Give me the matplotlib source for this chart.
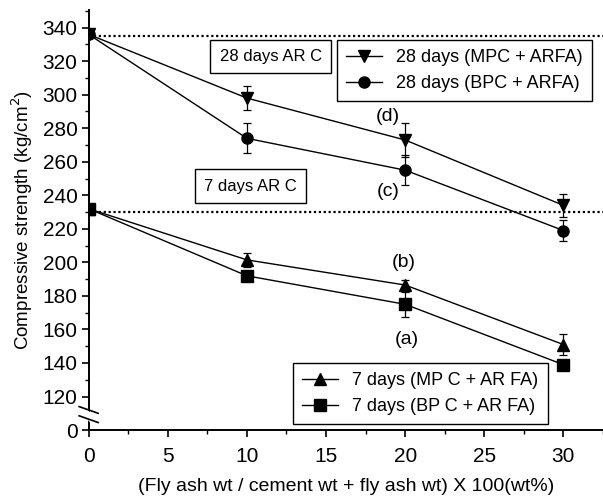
import matplotlib.pyplot as plt
import numpy as np
from matplotlib.lines import Line2D
from matplotlib.ticker import MultipleLocator

plt.rcParams['font.family'] = ['Liberation Sans', 'DejaVu Sans']

# Data -------------------------------------------------------------
fly_ash = [0, 10, 20, 30]
mpc_28 = [336, 298, 273, 234]
mpc_28_err = [0, 7, 10, 7]
bpc_28 = [336, 274, 255, 219]
bpc_28_err = [0, 9, 9, 6]
mpc_7 = [232, 201.5, 186.5, 151]
mpc_7_err = [0, 4, 3, 6]
bpc_7 = [232, 192, 175, 139]
bpc_7_err = [0, 3, 7.5, 3]
ref_28 = 335     # 28 days AR C
ref_7 = 230      # 7 days AR C
y_ticks = [100, 120, 140, 160, 180, 200, 220, 240, 260, 280, 300, 320, 340]
y_tick_labels = ['0', '120', '140', '160', '180', '200', '220', '240', '260', '280', '300', '320', '340']
x_ticks = [0, 5, 10, 15, 20, 25, 30]

fig = plt.figure(figsize=(6.03, 5.03), dpi=100)
ax = fig.add_axes([0.147, 0.145, 0.853, 0.835])

eb_kw = dict(color='black', linewidth=1.0, elinewidth=0.9, capsize=3, capthick=0.9, markersize=8)
ax.errorbar(fly_ash, mpc_28, yerr=mpc_28_err, marker='v', **eb_kw)
ax.errorbar(fly_ash, bpc_28, yerr=bpc_28_err, marker='o', **eb_kw)
ax.errorbar(fly_ash, mpc_7, yerr=mpc_7_err, marker='^', **eb_kw)
ax.errorbar(fly_ash, bpc_7, yerr=bpc_7_err, marker='s', **eb_kw)

ax.axhline(ref_28, color='black', linestyle=(0, (1, 1.2)), linewidth=1.6)
ax.axhline(ref_7, color='black', linestyle=(0, (1, 1.2)), linewidth=1.6)

# Axes -------------------------------------------------------------
ax.set_xlim(0, 32.5)
ax.set_ylim(100, 350.5)
ax.set_xticks(x_ticks)
ax.set_yticks(y_ticks)
ax.set_yticklabels(y_tick_labels)
ax.xaxis.set_minor_locator(MultipleLocator(2.5))
ax.yaxis.set_minor_locator(MultipleLocator(10))
ax.tick_params(which='major', direction='out', length=5, width=1.2, labelsize=15)
ax.tick_params(which='minor', direction='out', length=3, width=1.0)
ax.tick_params(axis='x', pad=7)
ax.tick_params(axis='y', pad=3)
for s in ['top', 'right']:
    ax.spines[s].set_visible(False)
for s in ['left', 'bottom']:
    ax.spines[s].set_linewidth(1.4)

ax.set_ylabel('Compressive strength (kg/cm$^2$)', fontsize=13.5, labelpad=5)
ax.set_xlabel('(Fly ash wt / cement wt + fly ash wt) X 100(wt%)', fontsize=14, labelpad=9)

# Axis break marks
ax.plot([-0.25, 0.25], [111, 106], color='white', linewidth=5, clip_on=False, zorder=5,
        solid_capstyle='butt')
ax.plot([-0.6, 0.6], [114, 110], color='black', linewidth=1.2, clip_on=False, zorder=6)
ax.plot([-0.6, 0.6], [108.5, 104.5], color='black', linewidth=1.2, clip_on=False, zorder=6)

# Annotations ------------------------------------------------------
box = dict(boxstyle='square,pad=0.55', facecolor='white', edgecolor='black', linewidth=1.0)
ax.text(11.5, 323, '28 days AR C', fontsize=12, ha='center', va='center', bbox=box)
ax.text(10.2, 245.5, '7 days AR C', fontsize=12, ha='center', va='center', bbox=box)
ax.text(18.9, 287, '(d)', fontsize=14, ha='center', va='center')
ax.text(18.9, 242, '(c)', fontsize=14, ha='center', va='center')
ax.text(19.9, 200, '(b)', fontsize=14, ha='center', va='center')
ax.text(20.1, 154, '(a)', fontsize=14, ha='center', va='center')

# Legends ----------------------------------------------------------
h28 = [Line2D([], [], color='black', marker='v', markersize=8, linewidth=1.0),
       Line2D([], [], color='black', marker='o', markersize=8, linewidth=1.0)]
leg1 = ax.legend(h28, ['28 days (MPC + ARFA)', '28 days (BPC + ARFA)'],
                 loc='upper left', bbox_to_anchor=(0.482, 0.929), borderaxespad=0,
                 fontsize=13, frameon=True, fancybox=False, edgecolor='black', framealpha=1,
                 handlelength=2.0, borderpad=0.5, labelspacing=0.5, handletextpad=0.8)
leg1.get_frame().set_linewidth(1.0)
ax.add_artist(leg1)
h7 = [Line2D([], [], color='black', marker='^', markersize=8, linewidth=1.0),
      Line2D([], [], color='black', marker='s', markersize=8, linewidth=1.0)]
leg2 = ax.legend(h7, ['7 days (MP C + AR FA)', '7 days (BP C + AR FA)'],
                 loc='lower left', bbox_to_anchor=(0.397, 0.014), borderaxespad=0,
                 fontsize=13, frameon=True, fancybox=False, edgecolor='black', framealpha=1,
                 handlelength=2.0, borderpad=0.5, labelspacing=0.5, handletextpad=0.8)
leg2.get_frame().set_linewidth(1.0)

fig.savefig('out.png', dpi=100)
